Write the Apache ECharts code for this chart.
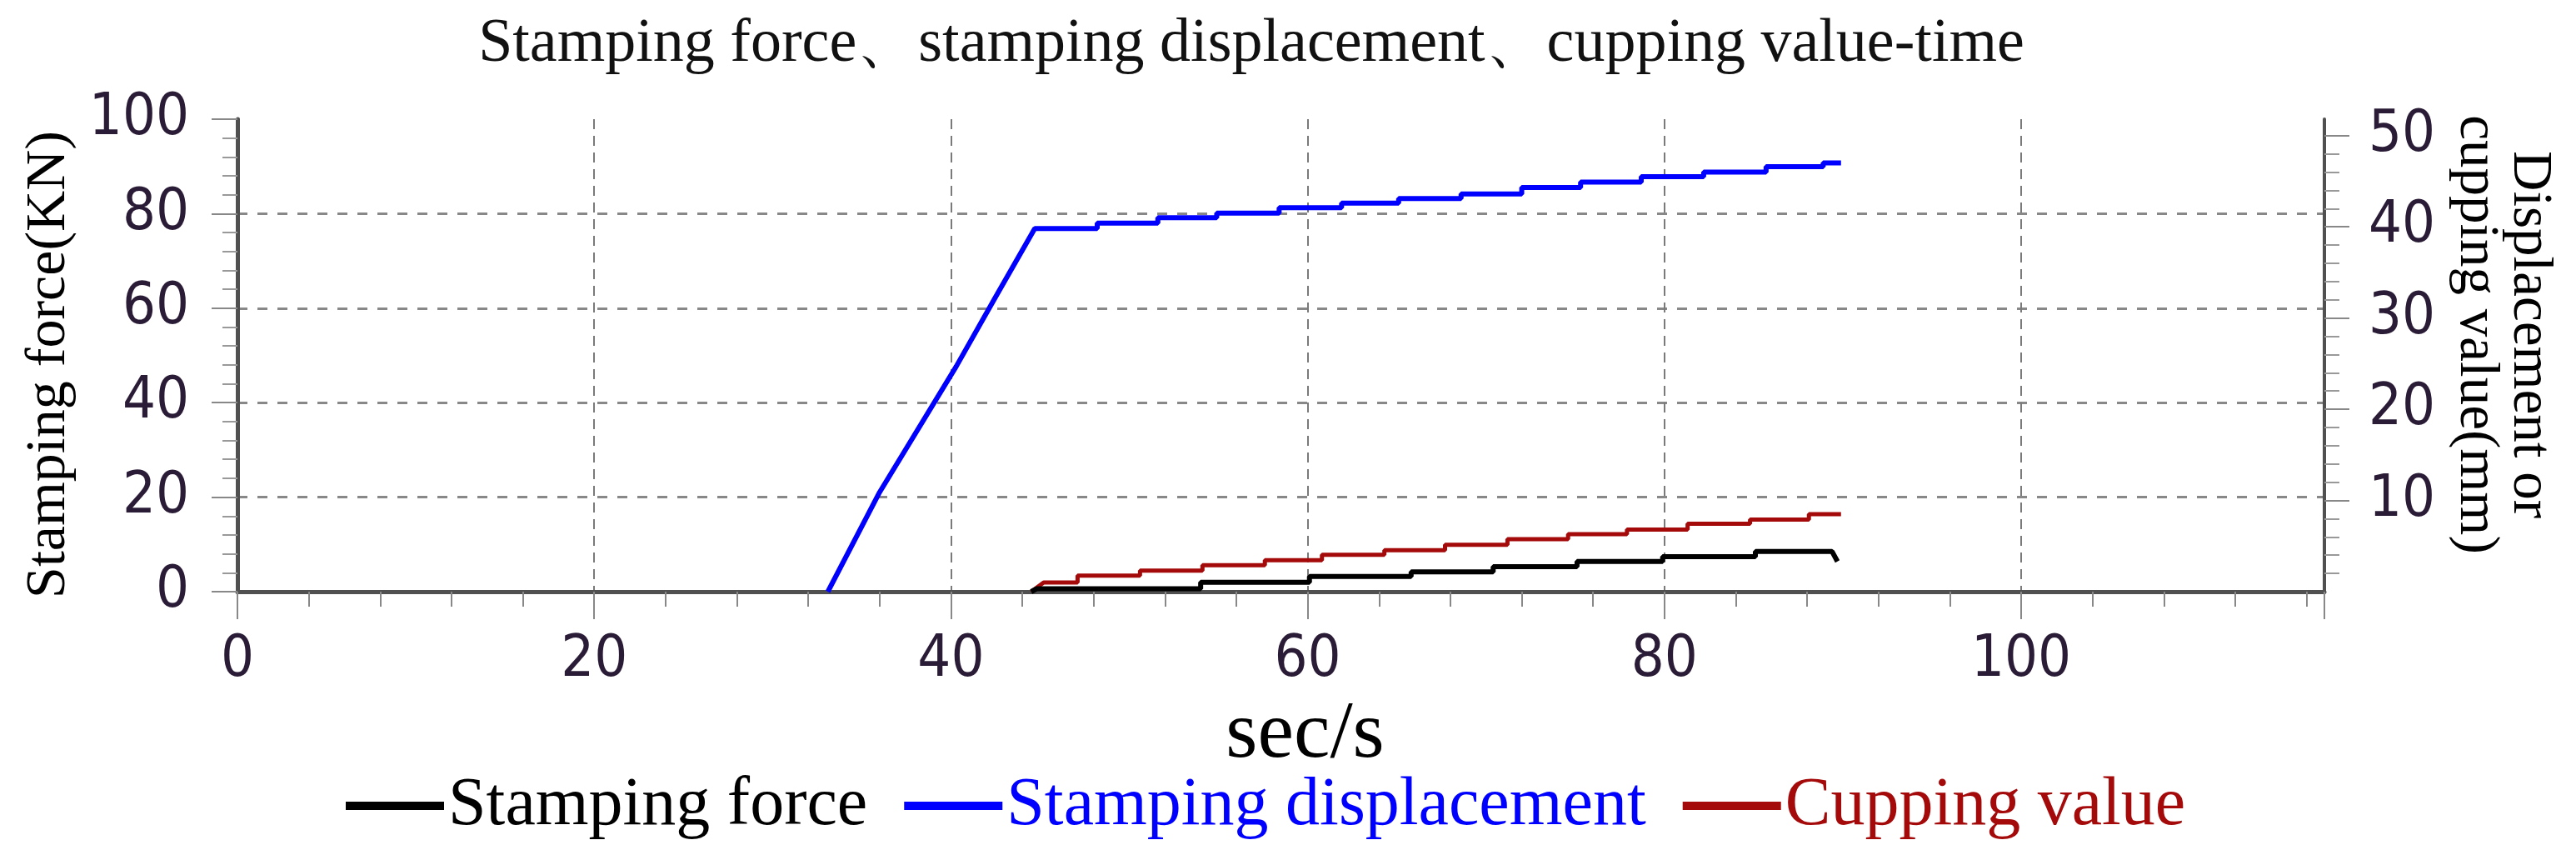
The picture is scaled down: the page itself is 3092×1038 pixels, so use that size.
<!DOCTYPE html>
<html>
<head>
<meta charset="utf-8">
<script src="https://cdn.jsdelivr.net/npm/echarts@6/dist/echarts.min.js"></script>
<style>
html,body{margin:0;padding:0;background:#fff;}
#container{width:3092px;height:1038px;}
</style>
</head>
<body>
<div id="container"></div>
<script>
// x axis ticks (sec)
var xTicks = [0, 20, 40, 60, 80, 100];
// right axis ticks (mm); its top sits a bit above 50
var rightTicks = [10, 20, 30, 40, 50];
var rightMax = 51.8;

// stamping displacement (mm): linear ramp, then stair steps
var dispRampT = [33.1, 36.0, 40.3, 42.5];
var dispRampV = [0, 10.9, 24.7, 32.3];
var dispStepT = [44.7, 48.2, 51.6, 54.9, 58.4, 61.9, 65.1, 68.6, 72.0, 75.3, 78.7, 82.2, 85.7, 88.9];
var dispStepV = [39.8, 40.4, 41.0, 41.5, 42.1, 42.6, 43.1, 43.6, 44.3, 44.9, 45.5, 46.0, 46.6, 47.0];
var dispEnd = 89.9;

// cupping value (mm)
var cupRampT = [44.5];
var cupRampV = [0];
var cupStepT = [45.2, 47.1, 50.6, 54.1, 57.6, 60.8, 64.3, 67.7, 71.2, 74.6, 77.9, 81.3, 84.8, 88.1];
var cupStepV = [1.0, 1.75, 2.3, 2.9, 3.45, 4.05, 4.55, 5.15, 5.75, 6.3, 6.8, 7.45, 7.9, 8.5];
var cupEnd = 89.9;

// stamping force (KN)
var forceRampT = [44.5];
var forceRampV = [0];
var forceStepT = [44.8, 54.0, 60.1, 65.8, 70.4, 75.1, 79.9, 85.1];
var forceStepV = [0.6, 2.0, 3.2, 4.2, 5.3, 6.4, 7.4, 8.5];
var forceEnd = 89.4;
var forceTailT = [89.7];
var forceTailV = [6.4];

var serif = '"Liberation Serif", "Times New Roman", serif';
var tickFont = '"DejaVu Sans Condensed", "DejaVu Sans", sans-serif';
var labelColor = '#2a1c36';
var axisColor = '#505050';
var tickColor = '#888';

// ramp points + staircase (horizontal then vertical)
function buildLine(rt, rv, st, sv, endT, tt, tv) {
    var pts = [];
    for (var i = 0; i < rt.length; i++) pts.push([rt[i], rv[i]]);
    for (var j = 0; j < st.length; j++) {
        if (j > 0) pts.push([st[j], sv[j - 1]]);
        pts.push([st[j], sv[j]]);
    }
    pts.push([endT, sv[sv.length - 1]]);
    if (tt) for (var k = 0; k < tt.length; k++) pts.push([tt[k], tv[k]]);
    return pts;
}

// minor ticks of the right axis, every 2 mm between the labelled ones
var rightMinor = [];
for (var m = 2; m < 50; m += 2) if (m % 10) rightMinor.push(m);

var chart = echarts.init(document.getElementById('container'));

var option = {
    animation: false,
    backgroundColor: '#fff',
    title: {
        text: 'Stamping force\u3001stamping displacement\u3001cupping value-time',
        left: 1497,
        textAlign: 'center',
        top: 12,
        textStyle: { fontFamily: serif, fontSize: 74, fontWeight: 'normal', color: '#111' }
    },
    legend: {
        left: 410,
        top: 921,
        itemWidth: 118,
        itemHeight: 10,
        itemGap: 44,
        icon: 'rect',
        textStyle: { fontFamily: serif, fontSize: 82 },
        data: [
            { name: 'Stamping force', textStyle: { color: '#000' } },
            { name: 'Stamping displacement', textStyle: { color: '#0000ff' } },
            { name: 'Cupping value', textStyle: { color: '#a50a0a' } }
        ]
    },
    grid: { left: 285, right: 302, top: 143, bottom: 328, containLabel: false },
    xAxis: {
        type: 'value',
        min: 0,
        max: 117,
        interval: 20,
        name: 'sec/s',
        nameLocation: 'middle',
        nameGap: 113,
        nameTextStyle: { fontFamily: serif, fontSize: 98, color: '#000', padding: [0, 0, 0, 58] },
        axisLine: { show: true, lineStyle: { color: axisColor, width: 5 } },
        axisTick: { show: true, length: 33, lineStyle: { color: tickColor, width: 2 } },
        minorTick: { show: true, splitNumber: 5, length: 18, lineStyle: { color: tickColor, width: 2 } },
        axisLabel: {
            margin: 48, fontFamily: tickFont, fontSize: 70, color: labelColor, showMaxLabel: false,
            formatter: function (v) { return xTicks.indexOf(v) >= 0 ? String(v) : ''; }
        },
        splitLine: { show: true, showMaxLine: false, lineStyle: { color: '#7a7a7a', width: 2, type: [12, 8] } }
    },
    yAxis: [{
        type: 'value',
        min: 0,
        max: 100,
        interval: 20,
        name: 'Stamping force(KN)',
        nameLocation: 'middle',
        nameGap: 192,
        nameTextStyle: { fontFamily: serif, fontSize: 68, color: '#000', padding: [0, 22, 0, 0] },
        axisLine: { show: true, lineStyle: { color: axisColor, width: 5 } },
        axisTick: { show: true, length: 31, lineStyle: { color: tickColor, width: 2 } },
        minorTick: { show: true, splitNumber: 5, length: 18, lineStyle: { color: '#999', width: 2 } },
        axisLabel: { margin: 58, fontFamily: tickFont, fontSize: 70, color: labelColor },
        splitLine: { show: true, showMaxLine: false, lineStyle: { color: '#888', width: 3, type: [12, 12] } }
    }, {
        type: 'value',
        min: 0,
        max: rightMax,
        interval: 10,
        position: 'right',
        name: 'Displacement or\ncupping value(mm)',
        nameLocation: 'middle',
        nameRotate: -90,
        nameGap: 150,
        nameTextStyle: { fontFamily: serif, fontSize: 67, lineHeight: 64, color: '#000', padding: [0, 50, 0, 0] },
        axisLine: { show: true, lineStyle: { color: axisColor, width: 4 } },
        axisTick: { show: true, customValues: rightTicks, length: 30, lineStyle: { color: tickColor, width: 2 } },
        minorTick: { show: false },
        axisLabel: { customValues: rightTicks, margin: 53, fontFamily: tickFont, fontSize: 70, color: labelColor },
        splitLine: { show: false }
    }, {
        // short ticks on the right axis
        type: 'value',
        min: 0,
        max: rightMax,
        interval: 2,
        position: 'right',
        axisLine: { show: false },
        axisTick: { show: true, customValues: rightMinor, length: 18, lineStyle: { color: '#999', width: 2 } },
        axisLabel: { show: false },
        splitLine: { show: false }
    }],
    series: [{
        name: 'Stamping displacement',
        type: 'line',
        yAxisIndex: 1,
        showSymbol: false,
        color: '#0000ff',
        lineStyle: { width: 6 },
        data: buildLine(dispRampT, dispRampV, dispStepT, dispStepV, dispEnd)
    }, {
        name: 'Cupping value',
        type: 'line',
        yAxisIndex: 1,
        showSymbol: false,
        color: '#a50a0a',
        lineStyle: { width: 5 },
        data: buildLine(cupRampT, cupRampV, cupStepT, cupStepV, cupEnd)
    }, {
        name: 'Stamping force',
        type: 'line',
        yAxisIndex: 0,
        showSymbol: false,
        color: '#000',
        lineStyle: { width: 6 },
        data: buildLine(forceRampT, forceRampV, forceStepT, forceStepV, forceEnd, forceTailT, forceTailV)
    }]
};

chart.setOption(option);
</script>
</body>
</html>
